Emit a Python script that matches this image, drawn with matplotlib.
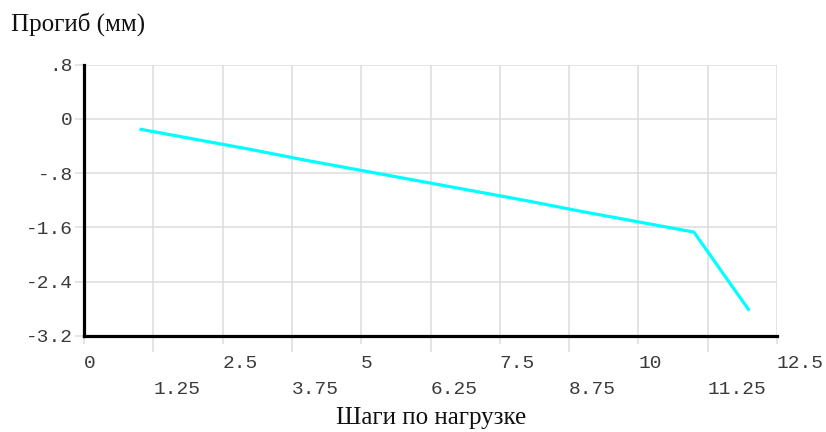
import matplotlib
matplotlib.use("Agg")
import matplotlib.pyplot as plt

# Deflection per load step
steps = [1, 2, 3, 4, 5, 6, 7, 8, 9, 10, 11, 12]
deflection = [-0.15, -0.30, -0.45, -0.61, -0.76, -0.91,
              -1.06, -1.21, -1.37, -1.52, -1.67, -2.83]

x_major = [0, 2.5, 5, 7.5, 10, 12.5]
x_major_labels = ["0", "2.5", "5", "7.5", "10", "12.5"]
x_minor = [1.25, 3.75, 6.25, 8.75, 11.25]
x_minor_labels = ["1.25", "3.75", "6.25", "8.75", "11.25"]
y_ticks = [0.8, 0, -0.8, -1.6, -2.4, -3.2]
y_labels = [".8", "0", "-.8", "-1.6", "-2.4", "-3.2"]

grid_color = "#dcdcdc"
label_color = "#3a3a3a"
mono = "Liberation Mono"
serif = "Liberation Serif"

fig = plt.figure(figsize=(8.26, 4.32), dpi=100)
ax = fig.add_axes([84 / 826, 1 - 335.7 / 432, (777 - 84) / 826, (335.7 - 64.7) / 432])

ax.plot(steps, deflection, color="#00ffff", linewidth=2.3, solid_capstyle="butt", zorder=3)

ax.set_xlim(0, 12.5)
ax.set_ylim(-3.2, 0.8)

ax.set_xticks(x_major)
ax.set_xticklabels(x_major_labels)
ax.set_xticks(x_minor, minor=True)
ax.set_xticklabels(x_minor_labels, minor=True)
ax.set_yticks(y_ticks)
ax.set_yticklabels(y_labels)

ax.grid(True, which="both", color=grid_color, linewidth=1.1, zorder=0)
ax.tick_params(axis="x", which="major", length=6, width=1.1, color=grid_color,
               pad=8, labelsize=14, labelcolor=label_color)
ax.tick_params(axis="x", which="minor", length=11.5, width=1.1, color=grid_color,
               pad=21, labelsize=14, labelcolor=label_color)
ax.tick_params(axis="y", length=6.5, width=1.1, color=grid_color,
               pad=1.5, labelsize=14, labelcolor=label_color)

for lbl in ax.get_xticklabels(which="both") + ax.get_yticklabels():
    lbl.set_fontfamily(mono)
for lbl in ax.get_xticklabels(which="both"):
    lbl.set_horizontalalignment("left")

for side in ("top", "right"):
    ax.spines[side].set_visible(False)
for side in ("left", "bottom"):
    ax.spines[side].set_color("black")
    ax.spines[side].set_linewidth(2.3)
    ax.spines[side].set_zorder(4)

fig.text(11 / 826, 1 - 31 / 432, "Прогиб (мм)", family=serif, fontsize=18,
         color="#111111", ha="left", va="baseline")
fig.text(431 / 826, 1 - 424 / 432, "Шаги по нагрузке", family=serif, fontsize=18,
         color="#111111", ha="center", va="baseline")

fig.savefig("out.png", dpi=100)
